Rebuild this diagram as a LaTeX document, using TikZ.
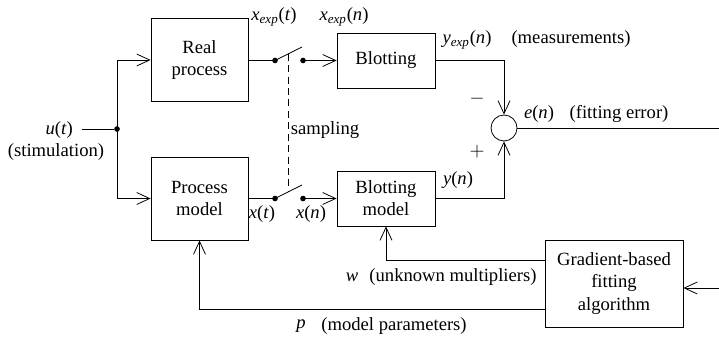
\documentclass[tikz,border=0pt]{standalone}
\usepackage{fontspec}
\setmainfont{Liberation Serif}
\usetikzlibrary{arrows.meta, calc, positioning}

\begin{document}
\begin{tikzpicture}[
      x=0.02cm,
      y=-0.02cm,
      font=\fontsize{10.6}{12.6}\selectfont,
      block/.style={draw, line width=0.45pt, align=center, inner sep=0pt},
      wire/.style={line width=0.45pt},
      feed/.style={wire, -{Straight Barb[length=7.4pt, width=6.8pt]}},
      junction/.style={circle, fill, inner sep=0pt, minimum size=3.2pt}
  ]
    \useasboundingbox (0,0) rectangle (719,338);
    % blocks
    \node[block, minimum width=1.94cm, minimum height=1.66cm] (real) at (199.5,60) {Real\\process};
    \node[block, minimum width=1.94cm, minimum height=1.66cm] (model) at (199.5,198.5) {Process\\model};
    \node[block, minimum width=1.96cm, minimum height=1.1cm] (blot) at (386,60.5) {Blotting};
    \node[block, minimum width=1.96cm, minimum height=1.1cm] (blotm) at (386,198.5) {Blotting\\model};
    \node[block, minimum width=2.76cm, minimum height=1.74cm] (grad) at (614,283.5)
      {Gradient-based\\fitting\\algorithm};
    \node[draw, circle, line width=0.45pt, minimum size=0.52cm, inner sep=0pt] (sum) at (504,128) {};
    % input and branch
    \coordinate (uin) at (82,129);
    \node[junction] (br) at (117,129) {};
    \draw[wire] (uin) -- (br);
    \draw[feed] (br.center) |- (real.west);
    \draw[feed] (br.center) |- (model.west);
    % sampling switches
    \node[junction] (s1) at (275,60.5) {};
    \node[junction] (s2) at (303,60.5) {};
    \coordinate (l1) at (302,47);
    \node[junction] (s3) at (275,198.5) {};
    \node[junction] (s4) at (303,198.5) {};
    \coordinate (l2) at (302,185);
    \draw[wire] (real.east |- s1) -- (s1.center) -- (l1);
    \draw[wire] (model.east |- s3) -- (s3.center) -- (l2);
    \draw[feed] (s2.center) -- (blot.west);
    \draw[feed] (s4.center) -- (blotm.west);
    \draw[wire, dash pattern=on 4pt off 2.5pt] ($(s1)!0.5!(l1)$) -- ($(s3)!0.5!(l2)$);
    % comparison
    \draw[feed] (blot.east) -| (sum.north);
    \draw[feed] (blotm.east) -| (sum.south);
    \coordinate (eout) at (719,128);
    \draw[wire] (sum.east) -- (eout);
    % feedback from the fitting algorithm
    \coordinate (gin) at (719,288);
    \draw[feed] (gin) -- (grad.east |- gin);
    \draw[feed] ($(grad.north west)!0.24!(grad.south west)$) -| (blotm.south);
    \draw[feed] ($(grad.north west)!0.79!(grad.south west)$) -| (model.south);
    % labels
    \node[anchor=east] (ulab) at (79,130) {\textit{u}(\textit{t})};
    \node (stim) at (56,152) {(stimulation)};
    \node (xet) at (274,17) {\textit{x}\textsubscript{\textit{exp}}(\textit{t})};
    \node (xen) at (344,17) {\textit{x}\textsubscript{\textit{exp}}(\textit{n})};
    \node (yen) at (467,40) {\textit{y}\textsubscript{\textit{exp}}(\textit{n})};
    \node (meas) at (571,39) {(measurements)};
    \node (samp) at (325,130) {sampling};
    \node (minus) at (477,99) {$-$};
    \node (plus) at (477,152) {$+$};
    \node (elab) at (539,114) {\textit{e}(\textit{n})};
    \node (ferr) at (619,114) {(fitting error)};
    \node (xt) at (262,214) {\textit{x}(\textit{t})};
    \node (xn) at (311,214) {\textit{x}(\textit{n})};
    \node (yn) at (458,180) {\textit{y}(\textit{n})};
    \node (wlab) at (352,277) {\textit{w}};
    \node (unk) at (453,277) {(unknown multipliers)};
    \node (plab) at (301,326) {\textit{p}};
    \node (mpar) at (394,326) {(model parameters)};
  \end{tikzpicture}
\end{document}
